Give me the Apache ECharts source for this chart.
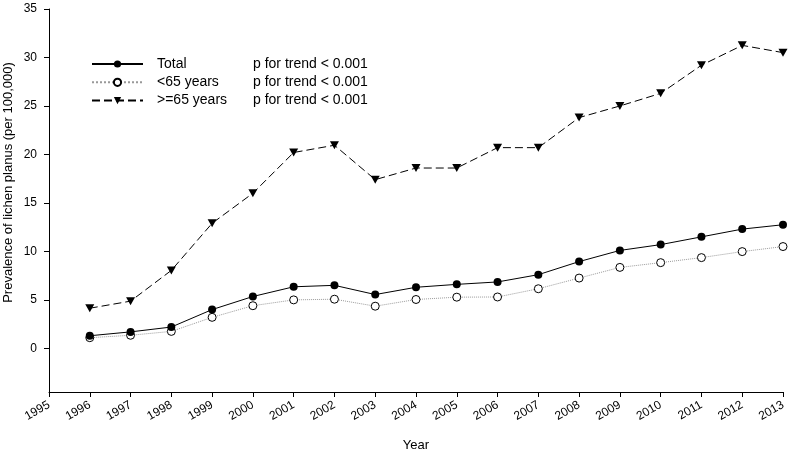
<!DOCTYPE html>
<html><head><meta charset="utf-8">
<script src="https://cdn.jsdelivr.net/npm/echarts@6/dist/echarts.min.js"></script>
<style>html,body{margin:0;padding:0;background:#fff}#c{width:789px;height:451px}</style>
</head><body><div id="c"></div>
<script>
const years = [1996,1997,1998,1999,2000,2001,2002,2003,2004,2005,2006,2007,2008,2009,2010,2011,2012,2013];
const total = [1.3,1.7,2.2,4.0,5.35,6.35,6.5,5.55,6.3,6.6,6.85,7.6,8.95,10.1,10.7,11.5,12.3,12.75];
const under65 = [1.1,1.35,1.75,3.2,4.4,5.0,5.07,4.35,5.04,5.28,5.3,6.15,7.25,8.35,8.84,9.36,9.98,10.5];
const over65 = [4.14,4.87,8.04,12.9,16.0,20.2,20.95,17.4,18.6,18.6,20.7,20.7,23.8,25.0,26.3,29.2,31.25,30.5];
const seriesNames = ['Total','<65 years','>=65 years'];
const trendText = ['p for trend < 0.001','p for trend < 0.001','p for trend < 0.001'];
const yTicks = [0,5,10,15,20,25,30,35];

const pairs = arr => years.map((y,i)=>[y,arr[i]]);
const chart = echarts.init(document.getElementById('c'));
const font = 'Liberation Sans, Arial, sans-serif';
chart.setOption({
  animation:false,
  textStyle:{fontFamily:font},
  grid:{left:49,right:6,top:9,bottom:59,containLabel:false,outerBoundsMode:'none'},
  legend:{
    orient:'vertical', left:91, top:57, padding:0, itemWidth:51, itemHeight:9, itemGap:4.3,
    data:seriesNames,
    formatter: n => '{a|'+n+'}{b|'+trendText[seriesNames.indexOf(n)]+'}',
    textStyle:{fontFamily:font,fontSize:14,color:'#000',lineHeight:14,
      rich:{a:{width:96,padding:[0,0,0,9],fontSize:14,fontFamily:font,color:'#000'},b:{fontSize:14,fontFamily:font,color:'#000'}}}
  },
  xAxis:{
    type:'value', min:1995, max:2013, interval:1,
    name:'Year', nameLocation:'middle', nameGap:47, nameMoveOverlap:false,
    nameTextStyle:{fontSize:13,color:'#000',fontFamily:font},
    axisLine:{onZero:false,lineStyle:{color:'#000',width:1}},
    axisTick:{length:5,lineStyle:{color:'#000'}},
    axisLabel:{rotate:30,fontSize:12,color:'#000',margin:12,formatter:v=>String(v)},
    splitLine:{show:false}
  },
  yAxis:{
    type:'value', min:-4.5, max:35,
    name:'Prevalence of lichen planus (per 100,000)', nameLocation:'middle', nameGap:34, nameMoveOverlap:false,
    nameTextStyle:{fontSize:13,color:'#000',fontFamily:font,padding:[0,0,0,36]},
    axisLine:{show:true,onZero:false,lineStyle:{color:'#000',width:1}},
    axisTick:{show:true,length:5,customValues:yTicks,lineStyle:{color:'#000'}},
    axisLabel:{fontSize:12,color:'#000',margin:12,customValues:yTicks},
    splitLine:{show:false}
  },
  series:[
    {name:seriesNames[0],type:'line',data:pairs(total),symbol:'circle',symbolSize:8,
      itemStyle:{color:'#000'},lineStyle:{color:'#000',width:1,type:'solid'},z:3},
    {name:seriesNames[1],type:'line',data:pairs(under65),symbol:'circle',symbolSize:8,
      itemStyle:{color:'#fff',borderColor:'#000',borderWidth:1},lineStyle:{color:'#999',width:1,type:'dotted'},z:2},
    {name:seriesNames[2],type:'line',data:pairs(over65),symbol:'triangle',symbolRotate:180,symbolSize:[9,8],
      itemStyle:{color:'#000'},lineStyle:{color:'#000',width:1,type:[8,4]},z:2}
  ]
});
</script></body></html>
